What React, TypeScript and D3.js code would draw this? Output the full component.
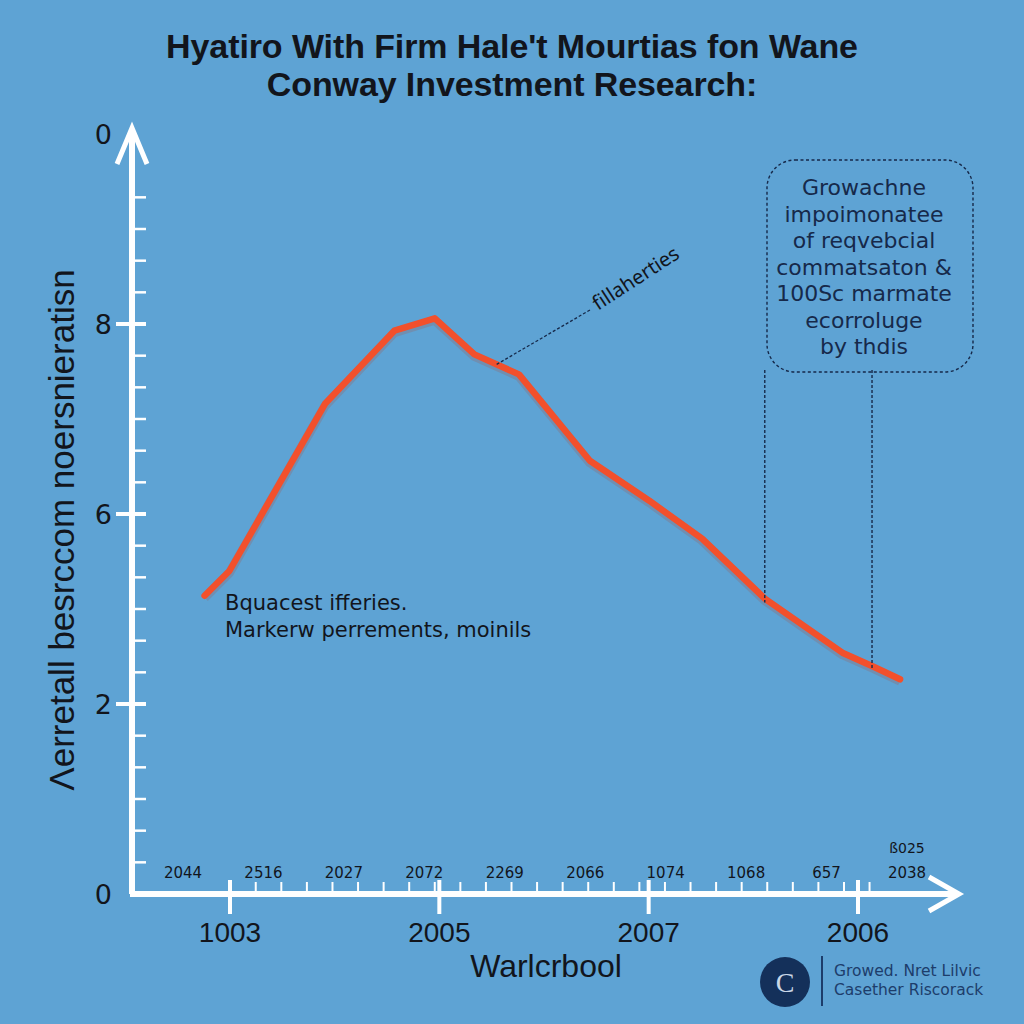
import React, { useRef, useEffect } from "react";
import * as d3 from "d3";

const width = 1024;
const height = 1024;

const titleLines = ["Hyatiro With Firm Hale't Mourtias fon Wane", "Conway Investment Research:"];
const yTickValues = [0, 2, 4, 6, 8];
const yTickLabels = ["0", "2", "6", "8", "0"];
const majorYears = ["1003", "2005", "2007", "2006"];
const minorYears = ["2044", "2516", "2027", "2072", "2269", "2066", "1074", "1068", "657", "2038"];
const lineX = [0.88, 1.18, 2.34, 3.18, 3.67, 4.15, 4.69, 5.55, 6.27, 6.91, 7.67, 8.61, 8.97, 9.31];
const lineY = [3.14, 3.4, 5.16, 5.93, 6.06, 5.68, 5.47, 4.56, 4.14, 3.74, 3.11, 2.54, 2.4, 2.26];
const boxLines = ["Growachne", "impoimonatee", "of reqvebcial", "commatsaton &", "100Sc marmate", "ecorroluge", "by thdis"];
const noteLines = ["Bquacest ifferies.", "Markerw perrements, moinils"];
const logoLines = ["Growed. Nret Lilvic", "Casether Riscorack"];

const ink = "#12151c";
const navy = "#16294a";

export default function App() {
  const svgRef = useRef<SVGSVGElement>(null);

  useEffect(() => {
    const svg = d3.select(svgRef.current);
    svg.selectAll("*").remove();

    const x = d3.scaleLinear().domain([0, 10]).range([132, 957]);
    const y = d3.scaleLinear().domain([0, 8]).range([894, 134]);
    const xMajor = d3.scalePoint<string>().domain(majorYears).range([230, 858]);
    const xMinor = d3.scalePoint<string>().domain(minorYears).range([183, 907]);

    svg.append("rect").attr("width", width).attr("height", height).attr("fill", "#5ea3d4");

    // title
    svg
      .selectAll("text.title")
      .data(titleLines)
      .enter()
      .append("text")
      .attr("class", "title")
      .attr("x", 512)
      .attr("y", (d, i) => 58 + i * 38)
      .attr("text-anchor", "middle")
      .attr("font-family", "Liberation Sans")
      .attr("font-weight", 700)
      .attr("font-size", 34)
      .attr("letter-spacing", -0.1)
      .attr("fill", ink)
      .text(d => d);

    const axis = svg.append("g").attr("stroke", "#fff").attr("fill", "none");

    // minor y ticks
    const minorY = d3.range(1 / 3, 7.4, 1 / 3).filter(v => Math.abs(v / 2 - Math.round(v / 2)) > 0.05);
    axis
      .selectAll("line.my")
      .data(minorY)
      .enter()
      .append("line")
      .attr("x1", x(0))
      .attr("x2", x(0) + 14)
      .attr("y1", d => y(d))
      .attr("y2", d => y(d))
      .attr("stroke-width", 2.5);

    // major y ticks
    axis
      .selectAll("line.My")
      .data(yTickValues.slice(1, 4))
      .enter()
      .append("line")
      .attr("x1", x(0) - 16)
      .attr("x2", x(0) + 14)
      .attr("y1", d => y(d))
      .attr("y2", d => y(d))
      .attr("stroke-width", 4);

    // minor x ticks
    const minorX = d3.range(1.5, 8.95, 0.31);
    axis
      .selectAll("line.mx")
      .data(minorX)
      .enter()
      .append("line")
      .attr("x1", d => x(d))
      .attr("x2", d => x(d))
      .attr("y1", y(0) - 12)
      .attr("y2", y(0))
      .attr("stroke-width", 2);

    // major x ticks
    axis
      .selectAll("line.Mx")
      .data(majorYears)
      .enter()
      .append("line")
      .attr("x1", d => xMajor(d)!)
      .attr("x2", d => xMajor(d)!)
      .attr("y1", y(0) - 14)
      .attr("y2", y(0) + 20)
      .attr("stroke-width", 4);

    // axis lines with open arrowheads
    axis
      .append("path")
      .attr("d", `M${x(0)},${y(0)}V${y(8) - 4}`)
      .attr("stroke-width", 6);
    axis
      .append("path")
      .attr("d", `M${x(0) - 15},${y(8) + 30}L${x(0)},${y(8) - 6}L${x(0) + 15},${y(8) + 30}`)
      .attr("stroke-width", 5)
      .attr("stroke-linejoin", "miter");
    axis
      .append("path")
      .attr("d", `M${x(0) - 2},${y(0)}H${x(10)}`)
      .attr("stroke-width", 6);
    axis
      .append("path")
      .attr("d", `M${x(10) - 28},${y(0) - 17}L${x(10) + 2},${y(0)}L${x(10) - 28},${y(0) + 17}`)
      .attr("stroke-width", 5);

    // y tick labels
    svg
      .selectAll("text.yt")
      .data(yTickValues)
      .enter()
      .append("text")
      .attr("x", 112)
      .attr("y", d => y(d) + 10)
      .attr("text-anchor", "end")
      .attr("font-family", "DejaVu Sans")
      .attr("font-size", 27)
      .attr("fill", ink)
      .text((d, i) => yTickLabels[i]);

    // x labels
    svg
      .selectAll("text.xm")
      .data(majorYears)
      .enter()
      .append("text")
      .attr("x", d => xMajor(d)!)
      .attr("y", 942)
      .attr("text-anchor", "middle")
      .attr("font-family", "Liberation Sans")
      .attr("font-size", 28)
      .attr("fill", ink)
      .text(d => d);

    svg
      .selectAll("text.xs")
      .data(minorYears)
      .enter()
      .append("text")
      .attr("x", d => xMinor(d)!)
      .attr("y", 878)
      .attr("text-anchor", "middle")
      .attr("font-family", "DejaVu Sans")
      .attr("font-size", 15)
      .attr("fill", ink)
      .text(d => d);

    svg
      .append("text")
      .attr("x", xMinor("2038")!)
      .attr("y", 853)
      .attr("text-anchor", "middle")
      .attr("font-family", "DejaVu Sans")
      .attr("font-size", 14)
      .attr("fill", ink)
      .text("ß025");

    // axis titles
    svg
      .append("text")
      .attr("x", 546)
      .attr("y", 977)
      .attr("text-anchor", "middle")
      .attr("font-family", "Liberation Sans")
      .attr("font-size", 32)
      .attr("fill", ink)
      .text("Warlcrbool");

    svg
      .append("text")
      .attr("transform", "translate(74,530) rotate(-90)")
      .attr("text-anchor", "middle")
      .attr("font-family", "Liberation Sans")
      .attr("font-size", 35)
      .attr("fill", ink)
      .text("Ʌerretall besrccom noersnieratisn");

    // line
    const pts: [number, number][] = lineX.map((v, i) => [x(v), y(lineY[i])]);
    svg
      .append("path")
      .attr("d", d3.line()(pts))
      .attr("fill", "none")
      .attr("stroke", "#b8402a")
      .attr("stroke-opacity", 0.2)
      .attr("stroke-width", 9)
      .attr("stroke-linejoin", "round")
      .attr("transform", "translate(0,2)");
    svg
      .append("path")
      .attr("d", d3.line()(pts))
      .attr("fill", "none")
      .attr("stroke", "#f2502c")
      .attr("stroke-width", 6.5)
      .attr("stroke-linejoin", "round")
      .attr("stroke-linecap", "round");

    // annotation "fillaherties"
    const mid: [number, number] = [(pts[5][0] + pts[6][0]) / 2, (pts[5][1] + pts[6][1]) / 2];
    svg
      .append("line")
      .attr("x1", mid[0])
      .attr("y1", mid[1])
      .attr("x2", 590)
      .attr("y2", 310)
      .attr("stroke", navy)
      .attr("stroke-width", 1.3)
      .attr("stroke-dasharray", "3,2");
    svg
      .append("text")
      .attr("transform", "translate(598,311) rotate(-33)")
      .attr("font-family", "Noto Sans")
      .attr("font-size", 20)
      .attr("fill", ink)
      .text("fillaherties");

    // dashed box
    svg
      .append("rect")
      .attr("x", 767)
      .attr("y", 160)
      .attr("width", 206)
      .attr("height", 212)
      .attr("rx", 28)
      .attr("fill", "none")
      .attr("stroke", navy)
      .attr("stroke-width", 1.4)
      .attr("stroke-dasharray", "3,2.5");
    svg
      .selectAll("text.box")
      .data(boxLines)
      .enter()
      .append("text")
      .attr("x", 864)
      .attr("y", (d, i) => 195 + i * 26.5)
      .attr("text-anchor", "middle")
      .attr("font-family", "DejaVu Sans")
      .attr("font-size", 22)
      .attr("fill", navy)
      .text(d => d);

    [10, 12].forEach(i => {
      svg
        .append("line")
        .attr("x1", pts[i][0])
        .attr("x2", pts[i][0])
        .attr("y1", 370)
        .attr("y2", pts[i][1] + 4)
        .attr("stroke", navy)
        .attr("stroke-width", 1.4)
        .attr("stroke-dasharray", "3,2");
    });

    // note text
    svg
      .selectAll("text.note")
      .data(noteLines)
      .enter()
      .append("text")
      .attr("x", 225)
      .attr("y", (d, i) => 610 + i * 27)
      .attr("font-family", "DejaVu Sans")
      .attr("font-size", 21)
      .attr("fill", ink)
      .text(d => d);

    // logo
    svg.append("circle").attr("cx", 785).attr("cy", 982).attr("r", 25).attr("fill", "#14305a");
    svg
      .append("text")
      .attr("x", 785)
      .attr("y", 992)
      .attr("text-anchor", "middle")
      .attr("font-family", "Liberation Serif")
      .attr("font-size", 28)
      .attr("fill", "#c9d6e6")
      .text("C");
    svg
      .append("line")
      .attr("x1", 822)
      .attr("x2", 822)
      .attr("y1", 956)
      .attr("y2", 1006)
      .attr("stroke", "#1d3d6b")
      .attr("stroke-width", 2);
    svg
      .selectAll("text.logo")
      .data(logoLines)
      .enter()
      .append("text")
      .attr("x", 834)
      .attr("y", (d, i) => 976 + i * 19)
      .attr("font-family", "DejaVu Sans")
      .attr("font-size", 15.5)
      .attr("fill", "#1d3d6b")
      .text(d => d);
  }, []);

  return (
    <svg
      ref={svgRef}
      width={width}
      height={height}
      style={{ position: "absolute", left: 0, top: 0 }}
    ></svg>
  );
}
